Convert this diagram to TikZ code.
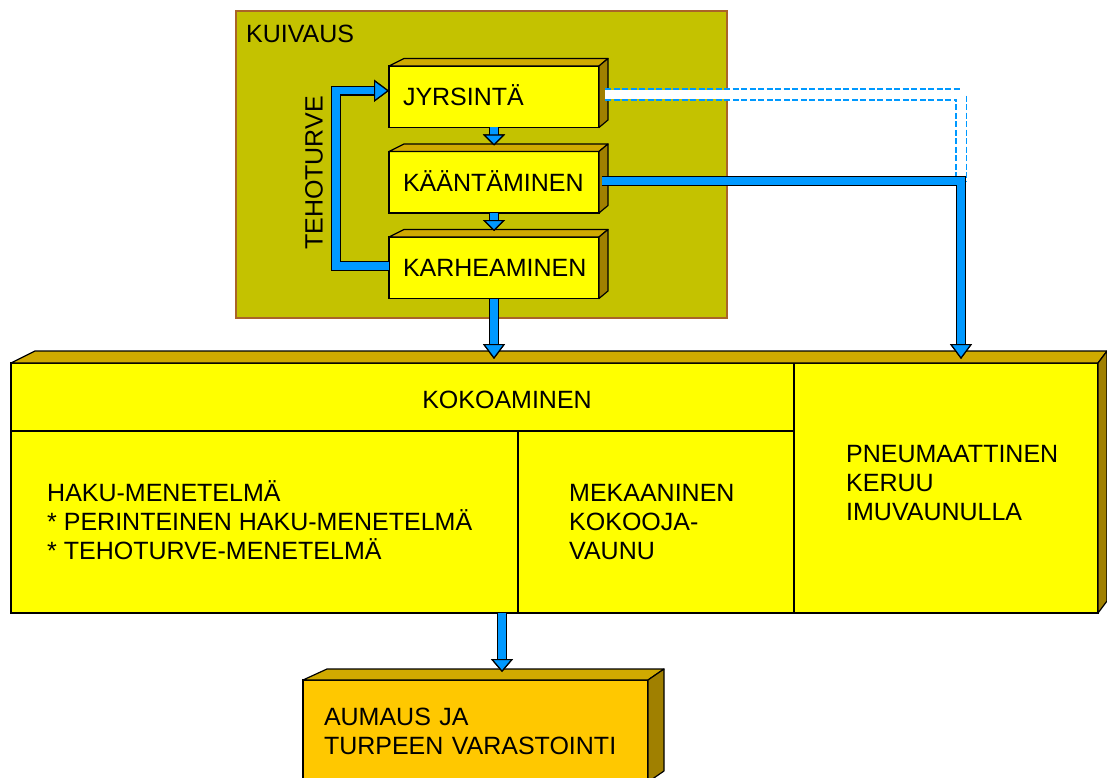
\documentclass[tikz,border=0pt]{standalone}
\usepackage{fontspec}
\setmainfont{Liberation Sans}
\usetikzlibrary{positioning,calc,arrows.meta}

\definecolor{flowblue}{RGB}{0,153,255}
\definecolor{boxyellow}{RGB}{255,255,0}
\definecolor{boxtop}{RGB}{208,170,0}
\definecolor{boxside}{RGB}{160,128,0}
\definecolor{storeorange}{RGB}{255,200,0}
\definecolor{dryolive}{RGB}{196,194,0}
\definecolor{drybrown}{RGB}{170,100,40}

\tikzset{
  front/.style={draw, line width=1.2, fill=boxyellow, outer sep=0},
  stagebox/.style={front, minimum width=210, minimum height=61.5, text width=182,
    inner xsep=14, align=left, text height=18, text depth=0},
  topface/.style={draw, line width=1.2, fill=boxtop, line join=round},
  sideface/.style={draw, line width=1.2, fill=boxside, line join=round},
  pipe/.style={draw=flowblue, line width=7.5, preaction={draw=black, line width=10},
    -{Triangle[width=22pt, length=#1, line width=1.2pt, color=black, fill=flowblue]}},
  pipe/.default=15pt,
  airpipe/.style={draw=flowblue, line width=12.5, dash pattern=on 6pt off 2.5pt,
    postaction={draw=white, solid, line width=9}},
  caption/.style={inner sep=0, align=left},
}

% top and right faces of a block drawn as a solid
\newcommand{\blockfaces}[4]{%
  \filldraw[topface] (#1.north west) -- ++(#2,-#4) -- ($(#1.north east)+(#3,-#4)$) -- (#1.north east) -- cycle;
  \filldraw[sideface] (#1.north east) -- ++(#3,-#4) -- ($(#1.south east)+(#3,-#4)$) -- (#1.south east) -- cycle;}

\begin{document}
\begin{tikzpicture}[x=1pt, y=-1pt, font=\fontsize{25}{29}\selectfont]
  \useasboundingbox (0,0) rectangle (1107,778);
  \clip (0,0) rectangle (1107,778);

  % drying
  \node[draw=drybrown, line width=1.5, fill=dryolive, minimum width=491, minimum height=307, outer sep=0] (kuiv) at (481.5,164.5) {};
  \node[caption, anchor=base west] (kuivt) at (246,43) {KUIVAUS};

  \node[stagebox] (jyr) at (494,96.75) {JYRSINTÄ};
  \node[stagebox, below=24pt of jyr] (kaan) {KÄÄNTÄMINEN};
  \node[stagebox, below=24pt of kaan] (karh) {KARHEAMINEN};
  \blockfaces{jyr}{15}{9}{7.5}
  \blockfaces{kaan}{15}{9}{7.5}
  \blockfaces{karh}{15}{9}{7.5}

  \node[caption, rotate=90] (teho) at (314,173) {TEHOTURVE};

  % collecting
  \node[front, minimum width=1087, minimum height=250] (koko) at (554.5,488) {};
  \blockfaces{koko}{24}{9}{12}
  \coordinate (split) at (518,431);
  \coordinate (pneusplit) at (794,431);
  \draw[line width=1.2] (koko.west |- split) -- (pneusplit);
  \draw[line width=1.2] (split) -- (split |- koko.south);
  \draw[line width=1.2] (koko.north -| pneusplit) -- (koko.south -| pneusplit);

  \node[caption, anchor=base] (kokot) at (507,408) {KOKOAMINEN};
  \node[caption, anchor=west] (haku) at (47,520) {HAKU-MENETELMÄ\\* PERINTEINEN HAKU-MENETELMÄ\\* TEHOTURVE-MENETELMÄ};
  \node[caption, anchor=west] (meka) at (569,522) {MEKAANINEN\\KOKOOJA-\\VAUNU};
  \node[caption, anchor=west] (pneu) at (846,483) {PNEUMAATTINEN\\KERUU\\IMUVAUNULLA};

  % storing
  \node[front, fill=storeorange, minimum width=345, minimum height=102, text width=303,
        inner xsep=21, align=left] (aum) at (475.5,731) {AUMAUS JA\\TURPEEN VARASTOINTI};
  \blockfaces{aum}{24}{16}{11}

  % flows
  \coordinate (drop) at (961,359);
  \coordinate (store) at (502,672);
  \draw[airpipe] ($(jyr.east)+(6,-2)$) -| (drop |- kaan.east);
  \draw[pipe] ($(kaan.east)+(3,-1)$) -| (drop);
  \draw[pipe=11pt] (jyr.south) -- ($(kaan.north)+(0,-6)$);
  \draw[pipe=11pt] (kaan.south) -- ($(karh.north)+(0,-6)$);
  \draw[pipe] (karh.south) -- (karh.south |- drop);
  \draw[pipe] ($(karh.west)+(0,-2)$) -- ++(-53,0) |- ($(jyr.west)+(0,-6)$);
  \draw[pipe=13pt] (koko.south -| store) -- (store);
\end{tikzpicture}
\end{document}
